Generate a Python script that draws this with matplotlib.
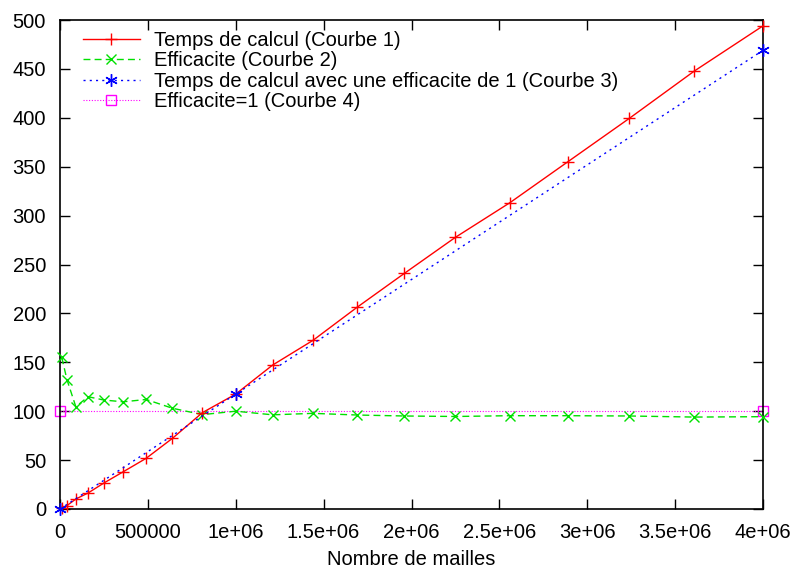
import numpy as np
import matplotlib.pyplot as plt

plt.rcParams['font.family'] = ['Liberation Sans', 'DejaVu Sans']

# nombre de mailles (100k)^2
mailles = [(100 * k) ** 2 for k in range(1, 21)]

temps = [0.76, 3.5, 10.2, 16.4, 26.6, 38.1, 51.8, 72.3, 98.5, 117.5,
         147.2, 172.5, 206.2, 241.0, 277.8, 313.2, 355.1, 399.5, 447.9, 494.0]
efficacite = [155, 132, 104.6, 114.8, 111.4, 109.6, 112, 103, 96.5, 100,
              96.3, 97.8, 96.1, 95.1, 94.6, 95.4, 95.4, 95.1, 94.0, 94.4]

ideal_x = [0, 1000000, 4000000]
ideal_t = [0, 117.5, 469]

eff1_x = [0, 4000000]
eff1_y = [100, 100]

xticks = [0, 500000, 1000000, 1500000, 2000000, 2500000, 3000000, 3500000, 4000000]
xlabels = ['0', '500000', '1e+06', '1.5e+06', '2e+06', '2.5e+06', '3e+06', '3.5e+06', '4e+06']
yticks = list(range(0, 501, 50))

fs = 14.5

fig = plt.figure(figsize=(7.95, 5.72), dpi=100)
ax = fig.add_axes([60 / 795, 1 - 509 / 572, 703 / 795, 489 / 572])

ax.plot(mailles, temps, color='#ff0000', lw=1, marker='+', ms=9, mew=1,
        label='Temps de calcul (Courbe 1)', clip_on=False, zorder=4)
ax.plot(mailles, efficacite, color='#00e000', lw=1, ls=(0, (5, 3)), marker='x', ms=7, mew=1,
        label='Efficacite (Courbe 2)', clip_on=False, zorder=3)
ax.plot(ideal_x, ideal_t, color='#0000ff', lw=1, ls=(0, (1.5, 3)), marker=(6, 2, 0), ms=9, mew=1,
        label='Temps de calcul avec une efficacite de 1 (Courbe 3)', clip_on=False, zorder=5)
ax.plot(eff1_x, eff1_y, color='#ff00ff', lw=0.8, ls=(0, (1, 1.5)), marker='s', ms=7, mew=1,
        mfc='none', label='Efficacite=1 (Courbe 4)', clip_on=False, zorder=2)

ax.set_xlim(0, 4000000)
ax.set_ylim(0, 500)
ax.set_xticks(xticks)
ax.set_xticklabels(xlabels)
ax.set_yticks(yticks)
ax.tick_params(direction='in', length=7, width=1, top=True, right=True, labelsize=fs)
ax.tick_params(axis='x', pad=10)
ax.tick_params(axis='y', pad=10)
for s in ax.spines.values():
    s.set_linewidth(1.2)

ax.set_xlabel('Nombre de mailles', fontsize=fs, labelpad=6)

ax.legend(loc='upper left', frameon=False, fontsize=fs, handlelength=2.8,
          handletextpad=0.7, labelspacing=0.07, numpoints=1,
          borderaxespad=0, borderpad=0, bbox_to_anchor=(0.033, 0.978))

plt.savefig('out.png', dpi=100)
